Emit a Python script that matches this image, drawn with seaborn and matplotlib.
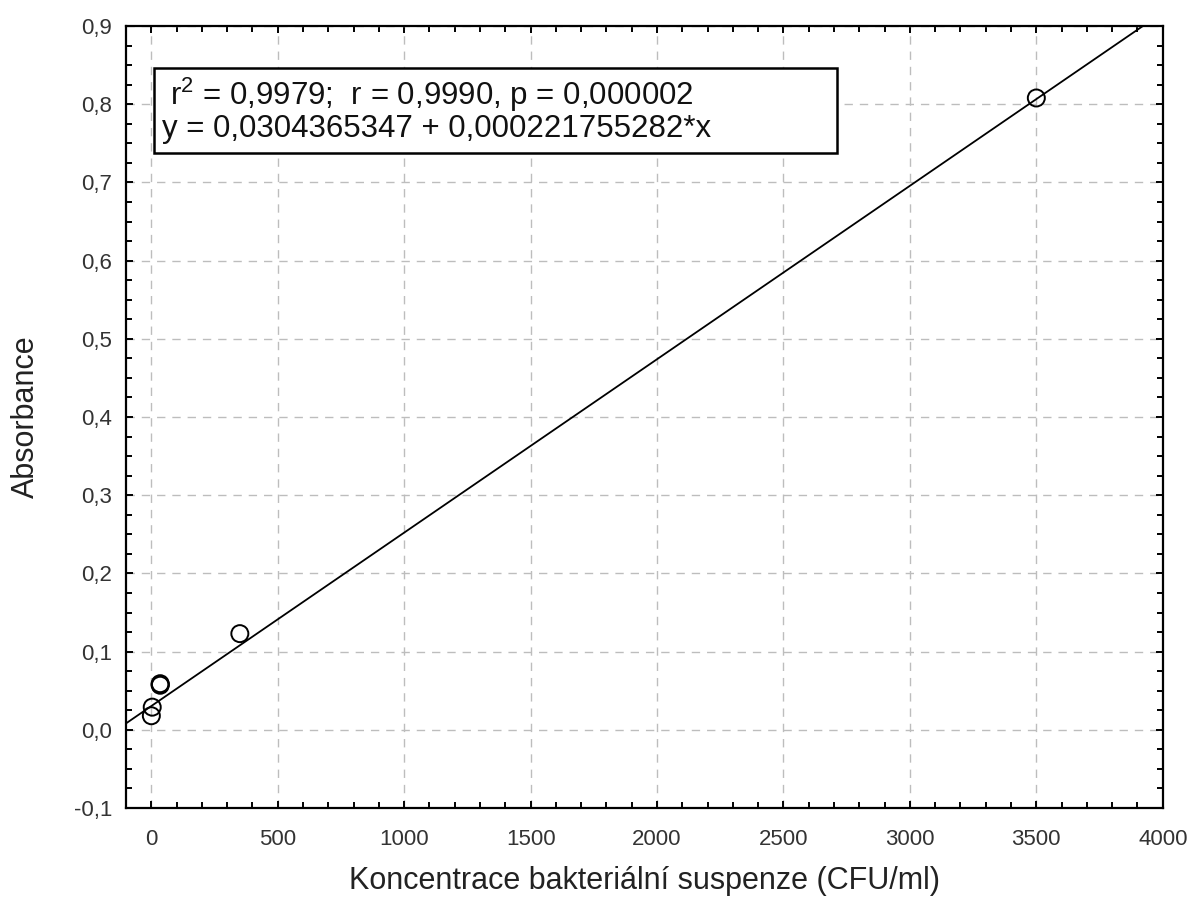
import numpy as np
import pandas as pd
import matplotlib
matplotlib.use("Agg")
import matplotlib.pyplot as plt
import seaborn as sns
from matplotlib.patches import Rectangle
from matplotlib.ticker import MultipleLocator, FuncFormatter

# Data
concentration = [0, 3.5, 35, 35, 35, 350, 3500]
absorbance = [0.018, 0.029, 0.057, 0.058, 0.059, 0.123, 0.808]
intercept = 0.0304365347
slope = 0.000221755282
stats_line1 = "r$^2$ = 0,9979;  r = 0,9990, p = 0,000002"
stats_line2 = "y = 0,0304365347 + 0,000221755282*x"
x_label = "Koncentrace bakteriální suspenze (CFU/ml)"
y_label = "Absorbance"

sns.set_theme(style="white")
plt.rcParams['font.family'] = ['Liberation Sans', 'DejaVu Sans']
plt.rcParams['mathtext.fontset'] = 'custom'
plt.rcParams['mathtext.rm'] = 'Liberation Sans'

df = pd.DataFrame({"x": concentration, "y": absorbance})

fig = plt.figure(figsize=(11.96, 8.98), dpi=100)
ax = fig.add_axes([0.1054, 0.1002, 0.8668, 0.8708])

xlim = (-100, 4000)
line_x = np.array(xlim, dtype=float)
line_df = pd.DataFrame({"x": line_x, "y": intercept + slope * line_x})
sns.lineplot(data=line_df, x="x", y="y", ax=ax, color="black", lw=1.3)
sns.scatterplot(data=df, x="x", y="y", ax=ax, s=150, facecolor="none",
                edgecolor="black", linewidth=1.4, zorder=3)

ax.set_xlim(*xlim)
ax.set_ylim(-0.1, 0.9)
ax.xaxis.set_major_locator(MultipleLocator(500))
ax.xaxis.set_minor_locator(MultipleLocator(100))
ax.yaxis.set_major_locator(MultipleLocator(0.1))
ax.yaxis.set_minor_locator(MultipleLocator(0.025))
ax.yaxis.set_major_formatter(FuncFormatter(lambda v, p: f"{v:.1f}".replace(".", ",").replace("-0,0", "0,0")))
ax.xaxis.set_major_formatter(FuncFormatter(lambda v, p: f"{v:.0f}"))

ax.grid(True, which="major", color="#bdbdbd", linestyle=(0, (6, 5)), linewidth=1.0)
ax.set_axisbelow(True)
for s in ax.spines.values():
    s.set_visible(True)
    s.set_color("black")
    s.set_linewidth(1.6)
ax.tick_params(which="both", direction="in", top=True, right=True, bottom=True, left=True,
               color="black")
ax.tick_params(which="major", length=5, width=1.4, labelsize=16, colors="black")
ax.tick_params(axis="x", which="major", pad=15)
ax.tick_params(axis="y", which="major", pad=10)
ax.tick_params(which="minor", length=4, width=1.4)
for lab in ax.get_xticklabels() + ax.get_yticklabels():
    lab.set_color("#333333")

ax.set_xlabel(x_label, fontsize=22, color="#222222")
ax.set_ylabel(y_label, fontsize=22, color="#222222")
ax.xaxis.label.set_va("center")
ax.yaxis.label.set_va("center")
ax.xaxis.set_label_coords(0.5, -0.0934)
ax.yaxis.set_label_coords(-0.0965, 0.5)

ax.add_patch(Rectangle((0.027, 0.8376), 0.659, 0.1087, transform=ax.transAxes,
                       facecolor="white", edgecolor="black", linewidth=1.8, zorder=4))
ax.text(0.0425, 0.899, stats_line1, transform=ax.transAxes, fontsize=22.5,
        va="baseline", ha="left", color="#111111", zorder=5)
ax.text(0.0347, 0.858, stats_line2, transform=ax.transAxes, fontsize=22.5,
        va="baseline", ha="left", color="#111111", zorder=5)

fig.savefig("out.png", dpi=100)
